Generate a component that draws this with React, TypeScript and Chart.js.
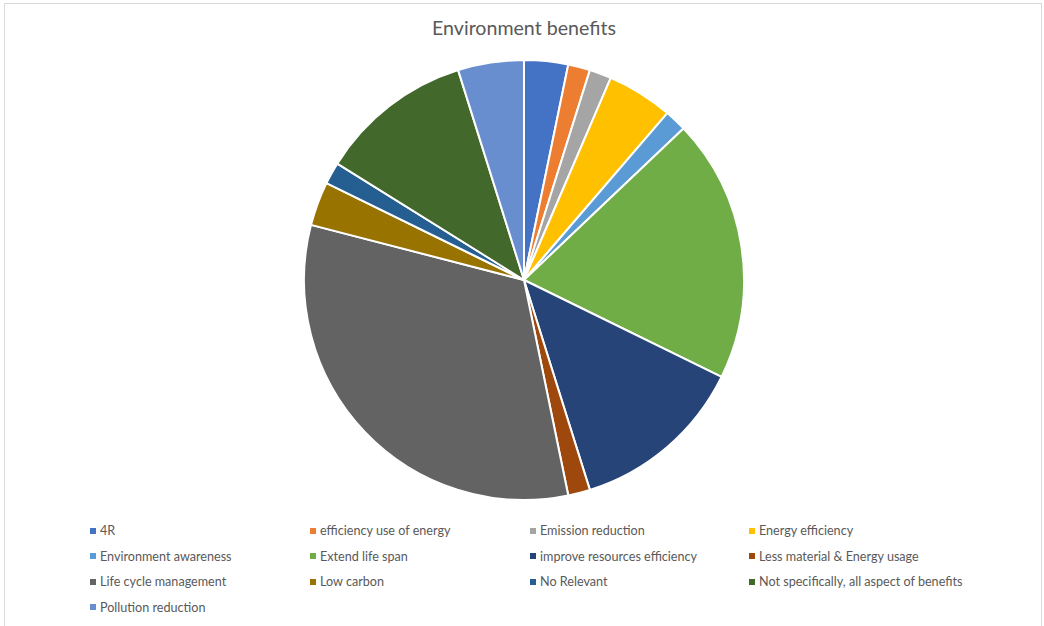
import React, { useEffect, useRef } from "react";
import { Chart, registerables } from "chart.js";

Chart.register(...registerables);

const title = "Environment benefits";
const categories = [
  "4R",
  "efficiency use of energy",
  "Emission reduction",
  "Energy efficiency",
  "Environment awareness",
  "Extend life span",
  "improve resources efficiency",
  "Less material & Energy usage",
  "Life cycle management",
  "Low carbon",
  "No Relevant",
  "Not specifically, all aspect of benefits",
  "Pollution reduction",
];
const counts = [2, 1, 1, 3, 1, 12, 8, 1, 20, 2, 1, 7, 3];
const colors = [
  "#4472C4",
  "#ED7D31",
  "#A5A5A5",
  "#FFC000",
  "#5B9BD5",
  "#70AD47",
  "#264478",
  "#9E480E",
  "#636363",
  "#997300",
  "#255E91",
  "#43682B",
  "#698ED0",
];

const FONT = "Lato, 'Open Sans', sans-serif";

export default function App() {
  const ref = useRef<HTMLCanvasElement | null>(null);

  useEffect(() => {
    document.body.style.margin = "0";
    const chart = new Chart(ref.current as HTMLCanvasElement, {
      type: "pie",
      data: {
        labels: categories,
        datasets: [
          {
            data: counts,
            backgroundColor: colors,
            borderColor: "#ffffff",
            borderWidth: 2,
            hoverOffset: 0,
          },
        ],
      },
      options: {
        responsive: false,
        animation: false,
        layout: { padding: 0 },
        plugins: {
          legend: { display: false },
          tooltip: { enabled: false },
          title: { display: false },
        },
      },
    });
    return () => chart.destroy();
  }, []);

  return (
    <div
      style={{
        position: "fixed",
        left: 0,
        top: 0,
        width: 1044,
        height: 626,
        background: "#ffffff",
        overflow: "hidden",
        fontFamily: FONT,
      }}
    >
      <div
        style={{
          position: "absolute",
          left: 4,
          top: 3,
          width: 1036,
          height: 640,
          border: "1px solid #d9d9d9",
        }}
      />
      <div
        style={{
          position: "absolute",
          left: 0,
          width: 1048,
          top: 16,
          textAlign: "center",
          fontSize: 19.6,
          color: "#595959",
          lineHeight: "24px",
        }}
      >
        {title}
      </div>
      <canvas
        ref={ref}
        width={442}
        height={442}
        style={{ position: "absolute", left: 303, top: 59, width: 442, height: 442 }}
      />
      <div
        style={{
          position: "absolute",
          left: 90,
          top: 518,
          display: "grid",
          gridTemplateColumns: "220px 220px 219px 260px",
          gridAutoRows: "25.5px",
          fontSize: 12.6,
          color: "#595959",
        }}
      >
        {categories.map((c, i) => (
          <div key={c} style={{ display: "flex", alignItems: "center", whiteSpace: "nowrap" }}>
            <span
              style={{
                display: "inline-block",
                width: 6,
                height: 6,
                background: colors[i],
                marginRight: 4,
              }}
            />
            <span>{c}</span>
          </div>
        ))}
      </div>
    </div>
  );
}
